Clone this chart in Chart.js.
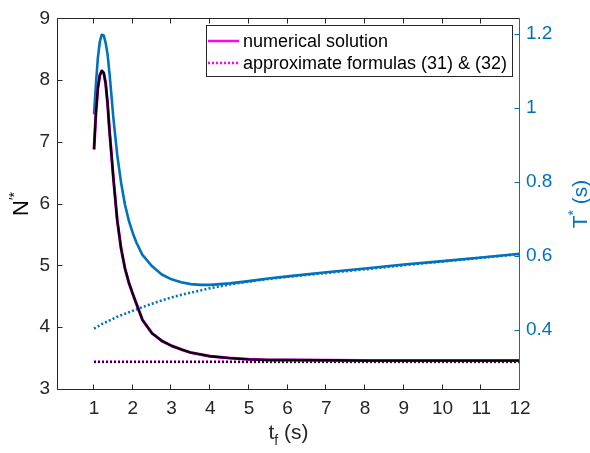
<!DOCTYPE html>
<html><head><meta charset="utf-8">
<script src="https://cdn.jsdelivr.net/npm/chart.js@4.4.0/dist/chart.umd.min.js"></script>
<style>html,body{margin:0;padding:0;background:#fff;overflow:hidden}</style>
</head><body>
<canvas id="c" width="590" height="453"></canvas>
<script>
// ---- data ----
const tf = [1, 1.05, 1.1, 1.15, 1.2, 1.25, 1.3, 1.35, 1.4, 1.45, 1.5, 1.6, 1.7, 1.8, 1.9, 2, 2.1, 2.25, 2.5, 2.75, 3, 3.25, 3.5, 3.75, 4, 4.5, 5, 5.5, 6, 7, 8, 9, 10, 11, 12];
const nNumerical = [6.88, 7.48, 7.88, 8.08, 8.15, 8.12, 7.95, 7.62, 7.18, 6.80, 6.41, 5.73, 5.27, 4.95, 4.72, 4.54, 4.37, 4.12, 3.9, 3.78, 3.70, 3.64, 3.59, 3.56, 3.53, 3.50, 3.48, 3.47, 3.47, 3.465, 3.46, 3.46, 3.46, 3.46, 3.46];
const tApproxX = [1, 12];
const nApprox = [3.44, 3.44];
const TNumerical = [0.982, 1.065, 1.135, 1.178, 1.197, 1.195, 1.175, 1.144, 1.092, 1.033, 0.972, 0.872, 0.797, 0.738, 0.695, 0.662, 0.635, 0.603, 0.572, 0.55, 0.537, 0.529, 0.524, 0.522, 0.522, 0.526, 0.532, 0.539, 0.545, 0.556, 0.566, 0.577, 0.586, 0.596, 0.606];
const TApprox = [0.404, 0.407, 0.41, 0.413, 0.416, 0.419, 0.421, 0.423, 0.426, 0.428, 0.431, 0.436, 0.440, 0.444, 0.448, 0.452, 0.456, 0.462, 0.471, 0.48, 0.488, 0.495, 0.501, 0.507, 0.513, 0.523, 0.531, 0.538, 0.544, 0.554, 0.564, 0.575, 0.585, 0.595, 0.605];
const xTicks = [1, 2, 3, 4, 5, 6, 7, 8, 9, 10, 11, 12];
const yLeftTicks = [3, 4, 5, 6, 7, 8, 9];
const yRightTicks = [0.4, 0.6, 0.8, 1, 1.2];
const legendLabels = ['numerical solution', 'approximate formulas (31) & (32)'];

const FONT = '"Liberation Sans", Arial, Helvetica, sans-serif';
const BLUE = '#0072BD';
const MAG = '#FF00FF';
const DARK = '#262626';
const TICK_SIZE = 19;

const pts = (xs, ys) => xs.map((x, i) => ({x: x, y: ys[i]}));

function seg(ctx, x1, y1, x2, y2) { ctx.beginPath(); ctx.moveTo(x1, y1); ctx.lineTo(x2, y2); ctx.stroke(); }

const axesPlugin = {
  id: 'axesBox',
  afterDatasetsDraw(chart) {
    const {ctx, chartArea: {left, right, top, bottom}, scales: {x, y, y1}} = chart;
    ctx.save();
    ctx.lineWidth = 1;
    ctx.strokeStyle = DARK;
    const L = Math.round(left) + 0.5, B = Math.round(bottom) + 0.5, T = Math.round(top) + 0.5, R = Math.round(right) - 0.5;
    seg(ctx, L, T, L, B); seg(ctx, L, B, R, B); seg(ctx, L, T, R, T);
    xTicks.forEach(v => { const px = Math.round(x.getPixelForValue(v)) - 0.5; seg(ctx, px, B, px, B - 5); seg(ctx, px, T, px, T + 5); });
    yLeftTicks.forEach(v => { const py = Math.round(y.getPixelForValue(v)) + 0.5; seg(ctx, L, py, L + 5, py); });
    ctx.strokeStyle = BLUE;
    seg(ctx, R, T, R, B);
    yRightTicks.forEach(v => { const py = Math.round(y1.getPixelForValue(v)) + 0.5; seg(ctx, R, py, R - 5, py); });
    ctx.restore();
  }
};

const legendPlugin = {
  id: 'boxLegend',
  afterDraw(chart) {
    const ctx = chart.ctx;
    ctx.save();
    const bx = 206.5, by = 25.5, bw = 306, bh = 51;
    ctx.fillStyle = '#fff';
    ctx.fillRect(bx, by, bw, bh);
    ctx.strokeStyle = '#262626';
    ctx.lineWidth = 1;
    ctx.strokeRect(bx, by, bw, bh);
    const rows = [41, 63];
    ctx.strokeStyle = MAG;
    ctx.lineWidth = 2.5;
    ctx.setLineDash([]);
    seg(ctx, 208, rows[0], 239, rows[0]);
    ctx.setLineDash([2, 2]);
    seg(ctx, 208, rows[1], 239, rows[1]);
    ctx.setLineDash([]);
    ctx.fillStyle = '#000';
    ctx.font = '18px ' + FONT;
    ctx.textAlign = 'left';
    ctx.textBaseline = 'middle';
    legendLabels.forEach((s, i) => ctx.fillText(s, 243, rows[i] + 1));
    ctx.restore();
  }
};

const titlesPlugin = {
  id: 'axisTitles',
  afterDraw(chart) {
    const ctx = chart.ctx;
    ctx.save();
    ctx.textBaseline = 'alphabetic';
    ctx.textAlign = 'left';
    // x title: t_f (s)
    ctx.fillStyle = DARK;
    const big = '21px ' + FONT, small = '14px ' + FONT;
    ctx.font = big; const wT = ctx.measureText('t').width;
    ctx.font = small; const wF = ctx.measureText('f').width;
    ctx.font = big; const wS = ctx.measureText(' (s)').width;
    let x0 = 288.5 - (wT + wF + wS) / 2, yb = 439;
    ctx.font = big; ctx.fillText('t', x0, yb);
    ctx.font = small; ctx.fillText('f', x0 + wT, yb + 6);
    ctx.font = big; ctx.fillText(' (s)', x0 + wT + wF, yb);
    // left title: N'*
    ctx.save();
    ctx.translate(28, 204);
    ctx.rotate(-Math.PI / 2);
    ctx.font = '22px ' + FONT; const wN = ctx.measureText('N').width;
    ctx.font = small; const wP = ctx.measureText('\u2032*').width;
    let sx = -(wN + wP) / 2;
    ctx.fillStyle = '#000';
    ctx.font = '22px ' + FONT; ctx.fillText('N', sx, 0);
    ctx.font = small; ctx.fillText('\u2032*', sx + wN, -9);
    ctx.restore();
    // right title: T* (s)
    ctx.save();
    ctx.translate(587, 204);
    ctx.rotate(-Math.PI / 2);
    ctx.fillStyle = BLUE;
    ctx.font = big; const wT2 = ctx.measureText('T').width;
    ctx.font = small; const wA = ctx.measureText('*').width;
    ctx.font = big; const wS2 = ctx.measureText(' (s)').width;
    sx = -(wT2 + wA + wS2) / 2;
    ctx.font = big; ctx.fillText('T', sx, 0);
    ctx.font = small; ctx.fillText('*', sx + wT2, -9);
    ctx.font = big; ctx.fillText(' (s)', sx + wT2 + wA, 0);
    ctx.restore();
    ctx.restore();
  }
};

const tickFont = {family: FONT, size: TICK_SIZE};
const quietGrid = {display: true, drawOnChartArea: false, drawTicks: false};

new Chart(document.getElementById('c').getContext('2d'), {
  type: 'line',
  data: {
    datasets: [
      {data: pts(tf, nNumerical), borderColor: '#000', borderWidth: 2.4, yAxisID: 'y'},
      {data: pts(tf, nNumerical), borderColor: MAG, borderWidth: 3.0, yAxisID: 'y'},
      {data: pts(tApproxX, nApprox), borderColor: '#000', borderWidth: 2, borderDash: [2, 2], yAxisID: 'y'},
      {data: pts(tApproxX, nApprox), borderColor: MAG, borderWidth: 2.8, borderDash: [2, 2], yAxisID: 'y'},
      {data: pts(tf, TNumerical), borderColor: BLUE, borderWidth: 2.6, yAxisID: 'y1'},
      {data: pts(tf, TApprox), borderColor: BLUE, borderWidth: 2.6, borderDash: [2, 2.2], yAxisID: 'y1'}
    ]
  },
  options: {
    responsive: false,
    animation: false,
    devicePixelRatio: 1,
    elements: {point: {radius: 0}, line: {tension: 0, fill: false, borderCapStyle: 'butt', borderJoinStyle: 'round'}},
    plugins: {legend: {display: false}, tooltip: {enabled: false}},
    layout: {padding: {top: 17, left: 0, right: 0, bottom: 0}},
    scales: {
      x: {
        type: 'linear', min: 0.044, max: 12,
        afterBuildTicks: s => { s.ticks = xTicks.map(v => ({value: v})); },
        afterFit: s => { s.height = 64; },
        grid: quietGrid, border: {display: false},
        ticks: {color: DARK, font: tickFont, padding: 8, maxRotation: 0, autoSkip: false}
      },
      y: {
        type: 'linear', position: 'left', min: 3, max: 9,
        afterBuildTicks: s => { s.ticks = yLeftTicks.map(v => ({value: v})); },
        afterFit: s => { s.width = 57; },
        grid: quietGrid, border: {display: false},
        ticks: {color: DARK, font: tickFont, padding: 7, autoSkip: false}
      },
      y1: {
        type: 'linear', position: 'right', min: 0.241, max: 1.241,
        afterBuildTicks: s => { s.ticks = yRightTicks.map(v => ({value: v})); },
        afterFit: s => { s.width = 70; },
        grid: quietGrid, border: {display: false},
        ticks: {color: BLUE, font: tickFont, padding: 6, autoSkip: false, callback: v => String(v)}
      }
    }
  },
  plugins: [axesPlugin, legendPlugin, titlesPlugin]
});
</script>
</body></html>
